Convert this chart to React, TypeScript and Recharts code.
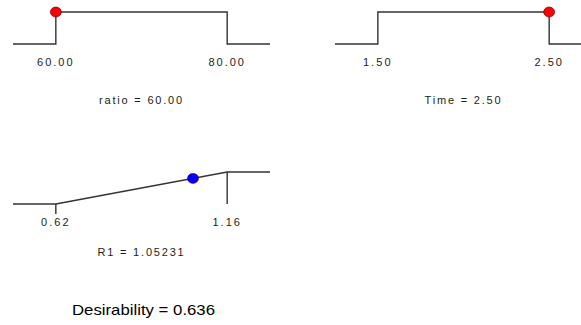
import { ComposedChart, Line, Scatter, XAxis, YAxis, ReferenceLine } from "recharts";

// goal limits and the chosen solution
const ratioLimits = [60, 80];
const ratioValue = 60;
const timeLimits = [1.5, 2.5];
const timeValue = 2.5;
const r1Limits = [0.62, 1.16];
const r1Value = 1.05231;
const desirability = 0.636;

const FONT = "'Liberation Sans', Arial, sans-serif";
const INK = "#1c1c24";
const LINE = "#333";

// factor in range: d = 1 between limits, 0 outside
const stepCurve = (lo: number, hi: number, pad: number) => [
  { x: lo - pad, d: 0 },
  { x: lo, d: 0 },
  { x: lo, d: 1 },
  { x: hi, d: 1 },
  { x: hi, d: 0 },
  { x: hi + pad, d: 0 },
];

// response maximize: linear ramp from lo to hi
const rampCurve = (lo: number, hi: number, pad: number) => [
  { x: lo - pad, d: 0 },
  { x: lo, d: 0 },
  { x: hi, d: 1 },
  { x: hi + pad, d: 1 },
];

interface PanelProps {
  left: number;
  top: number;
  limits: number[];
  value: number;
  name: string;
  valueText: string;
  ramp?: boolean;
  dotColor: string;
  labelOffset: number;
}

const Dot = (props: any) => {
  const { cx, cy, fill } = props;
  return <ellipse cx={cx} cy={cy} rx={5.5} ry={5} fill={fill} stroke="#500" strokeWidth={0.6} />;
};

const Panel = ({ left, top, limits, value, name, valueText, ramp, dotColor, labelOffset }: PanelProps) => {
  const [lo, hi] = limits;
  const pad = (hi - lo) * 0.25;
  const curve = ramp ? rampCurve(lo, hi, pad) : stepCurve(lo, hi, pad);
  const d = ramp ? (value - lo) / (hi - lo) : 1;
  return (
    <div style={{ position: "absolute", left, top }}>
      <ComposedChart width={257} height={108} margin={{ top: 12, right: 0, bottom: 0, left: 0 }}>
        <XAxis
          type="number"
          dataKey="x"
          domain={[lo - pad, hi + pad]}
          ticks={limits}
          tickFormatter={(v: number) => v.toFixed(2)}
          axisLine={false}
          tickLine={false}
          tickSize={6}
          tickMargin={8}
          height={64}
          tick={{ fontSize: 11, fill: INK, fontFamily: FONT, letterSpacing: 2 }}
          label={{
            value: `${name} = ${valueText}`,
            position: "insideBottom",
            offset: labelOffset,
            fontSize: 11,
            fill: INK,
            fontFamily: FONT,
            letterSpacing: 1.8,
          }}
        />
        <YAxis type="number" dataKey="d" domain={[0, 1]} hide />
        {ramp && (
          <ReferenceLine
            segment={[{ x: lo, y: 0 }, { x: lo, y: -0.31 }]}
            stroke={LINE}
            strokeWidth={1.4}
            ifOverflow="visible"
          />
        )}
        {ramp && (
          <ReferenceLine
            segment={[{ x: hi, y: 1 }, { x: hi, y: 0 }]}
            stroke={LINE}
            strokeWidth={1.4}
            ifOverflow="visible"
          />
        )}
        <Line
          data={curve}
          dataKey="d"
          type="linear"
          stroke={LINE}
          strokeWidth={1.4}
          dot={false}
          activeDot={false}
          isAnimationActive={false}
        />
        <Scatter data={[{ x: value, d }]} dataKey="d" fill={dotColor} shape={<Dot />} isAnimationActive={false} />
      </ComposedChart>
    </div>
  );
};

export default function App() {
  return (
    <div
      style={{
        position: "absolute",
        left: 0,
        top: 0,
        width: 581,
        height: 325,
        overflow: "hidden",
        background: "#fff",
      }}
    >
      <Panel left={13} top={0} limits={ratioLimits} value={ratioValue} name="ratio" valueText={ratioValue.toFixed(2)} dotColor="#ff0000" labelOffset={4} />
      <Panel left={335} top={0} limits={timeLimits} value={timeValue} name="Time" valueText={timeValue.toFixed(2)} dotColor="#ff0000" labelOffset={4} />
      <Panel left={13} top={160} limits={r1Limits} value={r1Value} name="R1" valueText={String(r1Value)} ramp dotColor="#0000ff" labelOffset={12} />
      <svg style={{ position: "absolute", left: 0, top: 295 }} width={300} height={30}>
        <text x={72} y={19.5} fontSize={15} fontFamily={FONT} fill="#000" textLength={143} lengthAdjust="spacingAndGlyphs">
          {`Desirability = ${desirability.toFixed(3)}`}
        </text>
      </svg>
    </div>
  );
}
